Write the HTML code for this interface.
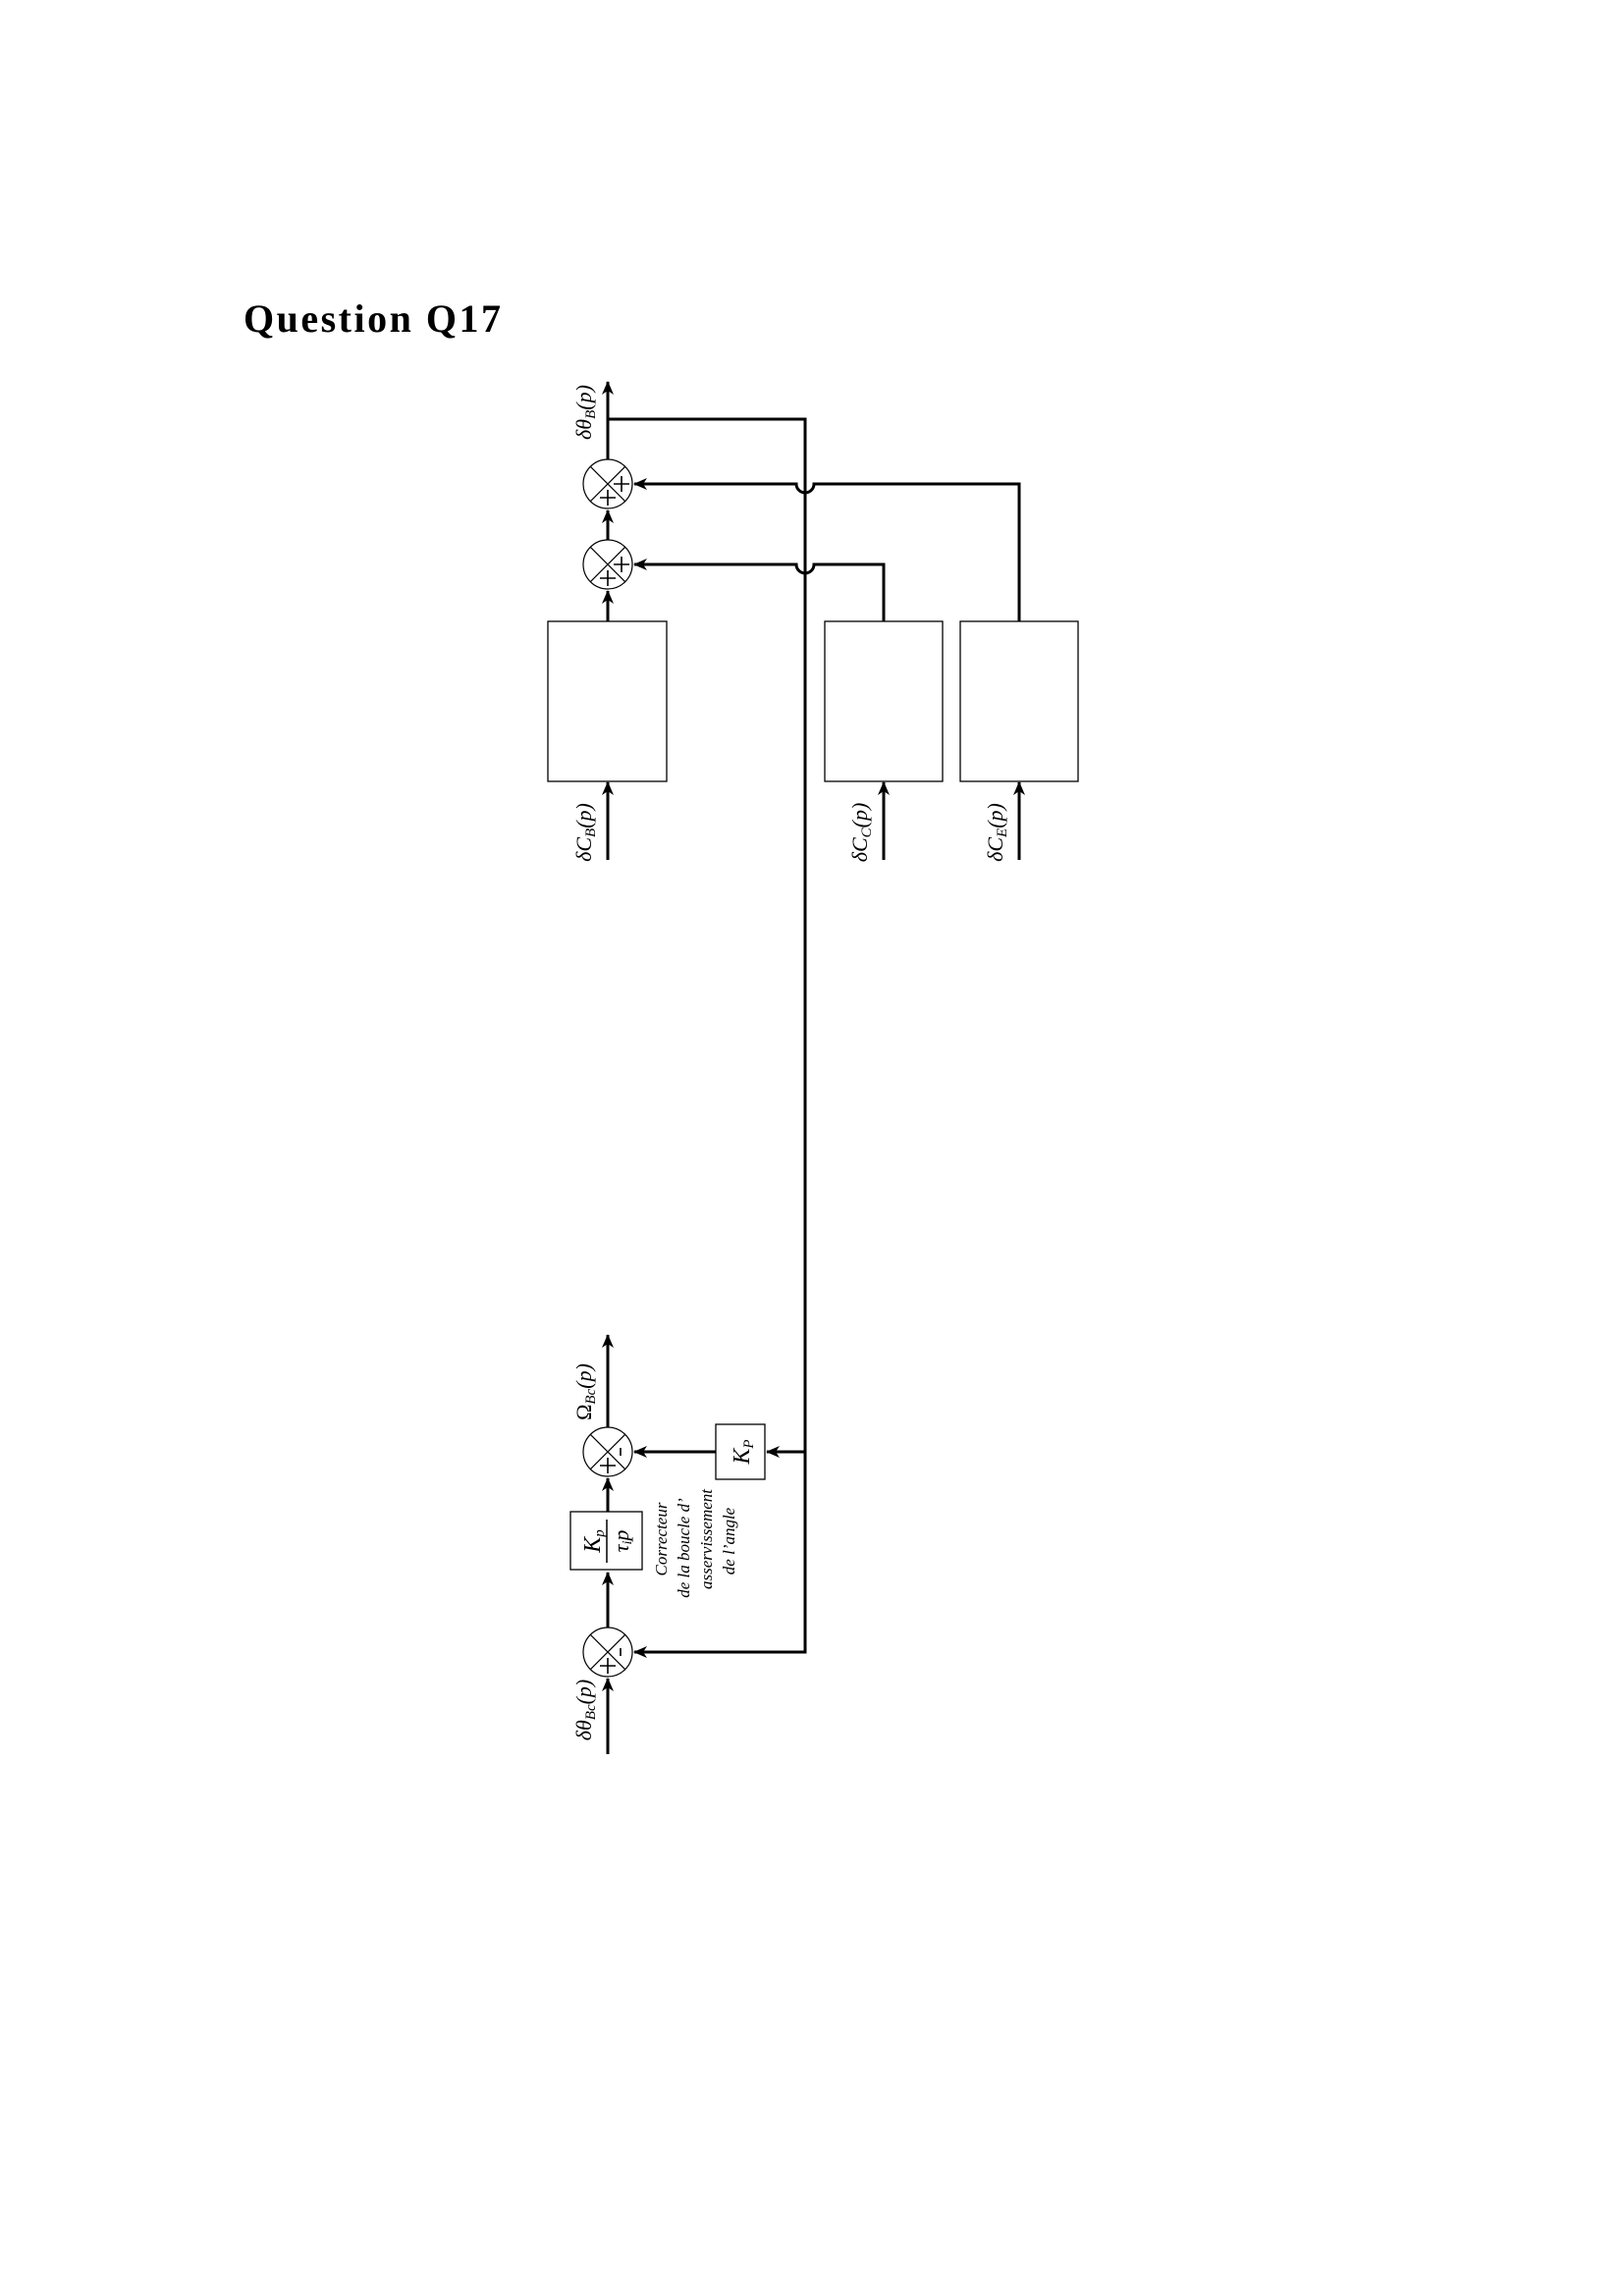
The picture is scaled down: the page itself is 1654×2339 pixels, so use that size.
<!DOCTYPE html>
<html><head><meta charset="utf-8"><style>
html,body{margin:0;padding:0;background:#fff;}
svg{display:block;}
text{font-family:"Liberation Serif",serif;fill:#000;}
</style></head><body>
<svg width="1654" height="2339" viewBox="0 0 1654 2339" xmlns="http://www.w3.org/2000/svg">
<defs>
<marker id="a" markerWidth="14" markerHeight="12" refX="13" refY="6" orient="auto" markerUnits="userSpaceOnUse">
<path d="M0,0 L14,6 L0,12 L4,6 Z" fill="#000"/>
</marker>
</defs>
<text x="248" y="338" font-size="40" font-weight="bold" letter-spacing="2.5">Question Q17</text>
<g stroke="#000" stroke-width="3" fill="none">
<line x1="619" y1="468" x2="619" y2="389" marker-end="url(#a)"/>
<line x1="619" y1="550" x2="619" y2="520" marker-end="url(#a)"/>
<line x1="619" y1="633" x2="619" y2="602" marker-end="url(#a)"/>
<line x1="619" y1="876" x2="619" y2="797" marker-end="url(#a)"/>
<line x1="900" y1="876" x2="900" y2="797" marker-end="url(#a)"/>
<line x1="1038" y1="876" x2="1038" y2="797" marker-end="url(#a)"/>
<path d="M619,427 L820,427 L820,1683 L646,1683" marker-end="url(#a)"/>
<path d="M1038,633 L1038,493 L829,493 A9,9 0 0 1 811,493 L646,493" marker-end="url(#a)"/>
<path d="M900,633 L900,575 L829,575 A9,9 0 0 1 811,575 L646,575" marker-end="url(#a)"/>
<line x1="619" y1="1787" x2="619" y2="1710" marker-end="url(#a)"/>
<line x1="619" y1="1658" x2="619" y2="1602" marker-end="url(#a)"/>
<line x1="619" y1="1540" x2="619" y2="1506" marker-end="url(#a)"/>
<line x1="619" y1="1454" x2="619" y2="1360" marker-end="url(#a)"/>
<line x1="820" y1="1479" x2="781" y2="1479" marker-end="url(#a)"/>
<line x1="729" y1="1479" x2="646" y2="1479" marker-end="url(#a)"/>
</g>
<g stroke="#000" stroke-width="1.3" fill="#fff">
<rect x="558" y="633" width="121" height="163"/>
<rect x="840" y="633" width="120" height="163"/>
<rect x="978" y="633" width="120" height="163"/>
<rect x="581" y="1540" width="73" height="59"/>
<rect x="729" y="1451" width="50" height="56"/>
</g>
<g stroke="#000" stroke-width="1.2" fill="#fff">
<g transform="translate(619,493)"><circle r="25"/><line x1="-17.7" y1="-17.7" x2="17.7" y2="17.7"/><line x1="17.7" y1="-17.7" x2="-17.7" y2="17.7"/><path d="M-8,14 h16 M0,6 v16 M6,0 h16 M14,-8 v16" stroke-width="1.6"/></g>
<g transform="translate(619,575)"><circle r="25"/><line x1="-17.7" y1="-17.7" x2="17.7" y2="17.7"/><line x1="17.7" y1="-17.7" x2="-17.7" y2="17.7"/><path d="M-8,14 h16 M0,6 v16 M6,0 h16 M14,-8 v16" stroke-width="1.6"/></g>
<g transform="translate(619,1479)"><circle r="25"/><line x1="-17.7" y1="-17.7" x2="17.7" y2="17.7"/><line x1="17.7" y1="-17.7" x2="-17.7" y2="17.7"/><path d="M-8,14 h16 M0,6 v16 M13,-4 v8" stroke-width="1.6"/></g>
<g transform="translate(619,1683)"><circle r="25"/><line x1="-17.7" y1="-17.7" x2="17.7" y2="17.7"/><line x1="17.7" y1="-17.7" x2="-17.7" y2="17.7"/><path d="M-8,14 h16 M0,6 v16 M13,-4 v8" stroke-width="1.6"/></g>
</g>
<g font-style="italic" font-size="22">
<text transform="translate(602,420) rotate(-90)" text-anchor="middle">δθ<tspan font-size="15" dy="4">B</tspan><tspan dy="-4">(p)</tspan></text>
<text transform="translate(602,848) rotate(-90)" text-anchor="middle">δC<tspan font-size="15" dy="4">B</tspan><tspan dy="-4">(p)</tspan></text>
<text transform="translate(883,848) rotate(-90)" text-anchor="middle">δC<tspan font-size="15" dy="4">C</tspan><tspan dy="-4">(p)</tspan></text>
<text transform="translate(1021,848) rotate(-90)" text-anchor="middle">δC<tspan font-size="15" dy="4">E</tspan><tspan dy="-4">(p)</tspan></text>
<text transform="translate(602,1418) rotate(-90)" text-anchor="middle"><tspan font-style="normal">Ω</tspan><tspan font-size="15" dy="4">Bc</tspan><tspan dy="-4">(p)</tspan></text>
<text transform="translate(602,1742) rotate(-90)" text-anchor="middle">δθ<tspan font-size="15" dy="4">Bc</tspan><tspan dy="-4">(p)</tspan></text>
<text transform="translate(763,1479) rotate(-90)" text-anchor="middle" font-size="24">K<tspan font-size="15" dy="4">P</tspan></text>
<text transform="translate(611,1570) rotate(-90)" text-anchor="middle" font-size="24">K<tspan font-size="15" dy="4">p</tspan></text>
<text transform="translate(640,1570) rotate(-90)" text-anchor="middle" font-size="22">τ<tspan font-size="14" dy="3">i</tspan><tspan dy="-3">p</tspan></text>
</g>
<line x1="618" y1="1548" x2="618" y2="1592" stroke="#000" stroke-width="1.5"/>
<g font-style="italic" font-size="17" text-anchor="middle">
<text transform="translate(679,1568) rotate(-90)">Correcteur</text>
<text transform="translate(702,1577) rotate(-90)">de la boucle d’</text>
<text transform="translate(725,1568) rotate(-90)">asservissement</text>
<text transform="translate(748,1570) rotate(-90)">de l’angle</text>
</g>
</svg>
</body></html>
